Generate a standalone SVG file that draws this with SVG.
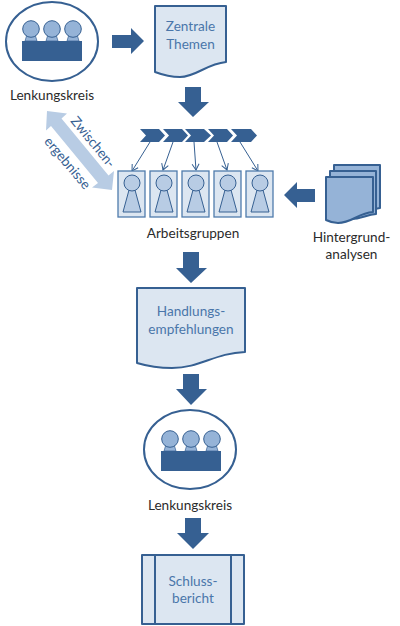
<svg xmlns="http://www.w3.org/2000/svg" width="400" height="626" viewBox="0 0 400 626">
<style>
text{font-family:"Lato","Open Sans",sans-serif;font-size:13.6px;text-anchor:middle;fill:#2b2b2b}
.d{fill:#4a76aa}
.w{fill:#366092}
.big{fill:#366092}
.doc{fill:#dce6f1;stroke:#366092;stroke-width:2;stroke-linejoin:round}
.back{fill:#95b3d7;stroke:#366092;stroke-width:2;stroke-linejoin:round}
.circ{fill:#fff;stroke:#366092;stroke-width:2}
.head{fill:#95b3d7;stroke:#366092;stroke-width:1}
.neck{fill:#95b3d7;stroke:#366092;stroke-width:.7}
.card{fill:#dce6f1;stroke:#4f7cac;stroke-width:1.300}
.pawn{fill:#b8cce4;stroke:#366092;stroke-width:1}
.thin{fill:none;stroke:#366092;stroke-width:1;marker-end:url(#a)}
</style>
<defs>
<marker id="a" markerUnits="userSpaceOnUse" markerWidth="10" markerHeight="10" refX="8" refY="5" orient="auto"><path d="M2,1.500L8,5L2,8.500" fill="none" stroke="#366092" stroke-width="1"/></marker>
<g id="table">
<path class="neck" d="M-24,10H-18L-15,20H-27Z"/><path class="neck" d="M-3,10H3L6,20H-6Z"/><path class="neck" d="M18,10H24L27,20H15Z"/>
<circle class="head" cx="-21" cy="8" r="8.300"/><circle class="head" cx="0" cy="8" r="8.300"/><circle class="head" cx="21" cy="8" r="8.300"/>
<rect class="big" x="-30" y="20" width="60" height="20"/>
</g>
<g id="pawn">
<path class="pawn" d="M-3,7H3L9,29H-9Z"/>
<circle class="pawn" cx="0" cy="0" r="8"/>
</g>
</defs>
<g id="connectors">
<path class="big" d="M112,35H131V28L144,41L131,54V48H112Z"/>
<path class="big" d="M185,87H201V102H209L193,117L178,102H185Z"/>
<path class="big" d="M315,189V202H297V208L284,195L297,182V189Z"/>
<path class="big" d="M183,252H199V268H207L191,283L176,268H183Z"/>
<path class="big" d="M183,374H199V389H207L191,405L176,389H183Z"/>
<path class="big" d="M185,518H201V533H209L193,549L177,533H185Z"/>
<path fill="#b8cce4" d="M47,111L67,113.500L61.500,118.500L108.500,175.500L114,171L112,190L92,187.500L98,183L51,126L46,130.500Z"/>
<path class="thin" d="M150,142L132,171"/>
<path class="thin" d="M173,142L163,170"/>
<path class="thin" d="M194,142L196,170"/>
<path class="thin" d="M217,142L227,170"/>
<path class="thin" d="M240,142L258,171"/>
</g>
<g id="zwischenergebnisse">
<text class="w" transform="translate(89.500,145) rotate(50.500)">Zwischen-</text>
<text class="w" transform="translate(64,166) rotate(50)">ergebnisse</text>
</g>
<g id="lenkungskreis1">
<ellipse class="circ" cx="52" cy="41.500" rx="46" ry="39.500"/>
<use href="#table" x="52" y="21"/>
<text x="52" y="100">Lenkungskreis</text>
</g>
<g id="zentrale-themen">
<path class="doc" d="M155,6H226V62C206,64 196,77 180,77C170,77 163,75 155,72Z"/>
<text class="d" x="190.500" y="31">Zentrale</text>
<text class="d" x="190.500" y="48.500">Themen</text>
</g>
<g id="chevrons">
<path class="big" d="M140,129H159L165,135.500L159,142H140L146,135.500Z"/>
<path class="big" d="M163,129H182L188,135.500L182,142H163L169,135.500Z"/>
<path class="big" d="M185,129H204L211,135.500L204,142H185L191,135.500Z"/>
<path class="big" d="M208,129H227L233,135.500L227,142H208L214,135.500Z"/>
<path class="big" d="M231,129H251L257,135.500L251,142H231L237,135.500Z"/>
</g>
<g id="arbeitsgruppen">
<rect class="card" x="118" y="171" width="27" height="46"/><use href="#pawn" x="132" y="183"/>
<rect class="card" x="150" y="171" width="27" height="46"/><use href="#pawn" x="164" y="183"/>
<rect class="card" x="182" y="171" width="27" height="46"/><use href="#pawn" x="196" y="183"/>
<rect class="card" x="214" y="171" width="27" height="46"/><use href="#pawn" x="228" y="183"/>
<rect class="card" x="246" y="171" width="27" height="46"/><use href="#pawn" x="260" y="183"/>
<text x="193" y="238">Arbeitsgruppen</text>
</g>
<g id="hintergrundanalysen">
<path class="back" d="M334,165H380V208C370,209 365,214 355,214H334Z"/>
<path class="back" d="M330,171H376V214C366,215 361,219 351,219H330Z"/>
<path class="back" d="M326,177H373V212C358,213 352,223 338,223C333,223 330,222 326,220Z"/>
<text x="351.500" y="242">Hintergrund-</text>
<text x="351.500" y="259">analysen</text>
</g>
<g id="handlungsempfehlungen">
<path class="doc" d="M137,288H245V352C215,353 200,368 172,368C158,368 147,366 137,363Z"/>
<text class="d" x="191" y="316">Handlungs-</text>
<text class="d" x="191" y="334">empfehlungen</text>
</g>
<g id="lenkungskreis2">
<ellipse class="circ" cx="190" cy="449.500" rx="46" ry="39.500"/>
<use href="#table" x="191" y="431"/>
<text x="190" y="510">Lenkungskreis</text>
</g>
<g id="schlussbericht">
<rect class="doc" x="142" y="555" width="102" height="69"/>
<path fill="none" stroke="#366092" stroke-width="2" d="M155,555V624M231,555V624"/>
<text class="d" x="193" y="586">Schluss-</text>
<text class="d" x="193" y="603">bericht</text>
</g>
</svg>
